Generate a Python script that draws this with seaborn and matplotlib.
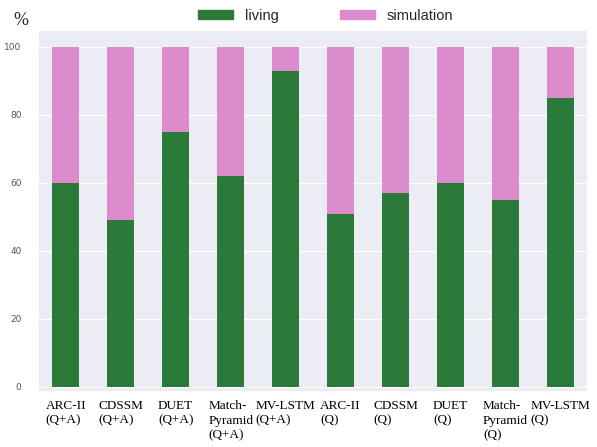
import matplotlib
matplotlib.use("Agg")
import matplotlib.pyplot as plt
import matplotlib.patches as mpatches
import pandas as pd
import seaborn as sns

# data
models = ["ARC-II\n(Q+A)", "CDSSM\n(Q+A)", "DUET\n(Q+A)", "Match-\nPyramid\n(Q+A)", "MV-LSTM\n(Q+A)",
          "ARC-II\n(Q)", "CDSSM\n(Q)", "DUET\n(Q)", "Match-\nPyramid\n(Q)", "MV-LSTM\n(Q)"]
living = [60, 49, 75, 62, 93, 51, 57, 60, 55, 85]
simulation = [100 - v for v in living]

green = "#2b7a3a"
pink = "#dc8ccc"

df = pd.DataFrame({"model": models, "living": living, "simulation": simulation})
df["total"] = df["living"] + df["simulation"]

sns.set_theme(style="darkgrid", rc={"axes.facecolor": "#ececf4", "grid.linewidth": 0.8})

fig = plt.figure(figsize=(5.97, 4.47), dpi=100)
ax = fig.add_axes([0.064, 0.123, 0.921, 0.81])

# stacked: full height in pink, living part on top in green
sns.barplot(data=df, x="model", y="total", color=pink, saturation=1, width=0.5, linewidth=0, ax=ax)
sns.barplot(data=df, x="model", y="living", color=green, saturation=1, width=0.5, linewidth=0, ax=ax)

ax.set_xlim(-0.5, 9.5)
ax.set_ylim(-1.5, 105)
ax.set_yticks([0, 20, 40, 60, 80, 100])
ax.set_xlabel("")
ax.set_ylabel("")
ax.tick_params(axis="y", labelsize=6.5, labelcolor="#555555", pad=6)
ax.tick_params(axis="x", pad=0)
for lab in ax.get_xticklabels():
    lab.set_fontfamily("Liberation Serif")
    lab.set_fontsize(9.5)
    lab.set_multialignment("left")
    lab.set_linespacing(1.25)
    lab.set_color("black")

fig.text(0.022, 0.955, "%", fontsize=13, family="Liberation Serif", va="center")

handles = [mpatches.Patch(color=green, label="living"),
           mpatches.Patch(color=pink, label="simulation")]
fig.legend(handles=handles, loc="center", bbox_to_anchor=(0.545, 0.965), ncol=2, frameon=False,
           prop={"family": "Liberation Sans", "size": 10.5}, handlelength=2.4, handleheight=0.6,
           columnspacing=4.2, handletextpad=0.8)

fig.savefig("out.png", dpi=100)
